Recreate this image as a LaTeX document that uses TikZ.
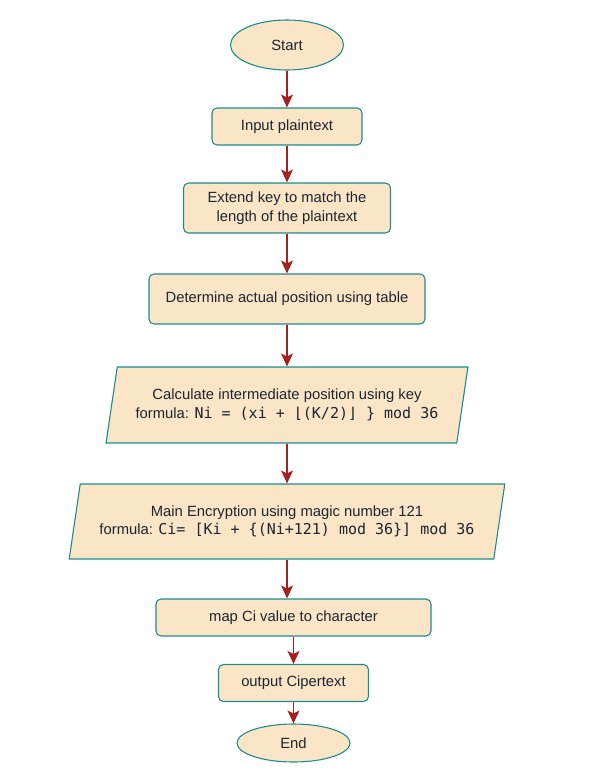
\documentclass[tikz,border=0pt]{standalone}
\usepackage{fontspec}
\setmainfont{Liberation Sans}
\newfontfamily\formulafont{DejaVu Sans Mono}
\usepackage{xcolor}
\usepackage{tikz}
\usetikzlibrary{arrows.meta, shapes, shapes.geometric, positioning}
\definecolor{boxfill}{RGB}{250, 229, 199}
\definecolor{boxline}{RGB}{30, 140, 140}
\definecolor{arrowred}{RGB}{165, 32, 32}
\definecolor{textdark}{RGB}{30, 36, 48}
\tikzset{
    boxnode/.style = {draw=boxline, fill=boxfill, rectangle, rounded corners=5pt, line width=1.1pt,
      inner sep=0pt, node distance=0em, text=textdark},
    termnode/.style = {draw=boxline, fill=boxfill, ellipse, line width=1.1pt, inner sep=0pt,
      node distance=0em, minimum width=113pt, text=textdark},
    ionode/.style = {draw=boxline, fill=boxfill, trapezium, trapezium left angle=72.5,
      trapezium right angle=107.5, trapezium stretches=true, line width=1.1pt, inner sep=0pt,
      node distance=0em, text=textdark},
    connect/.style = {draw=arrowred, line width=1.4pt, -{Stealth[length=13pt, width=12pt, inset=3pt]}},
    every text node part/.style={align=center}
}
\newcommand{\fml}[1]{{\formulafont\fontsize{15}{18}\selectfont #1}}

\begin{document}
\begin{tikzpicture}[font=\fontsize{14.8}{18.5}\selectfont]
    \useasboundingbox (-287pt, 45pt) rectangle (306pt, -726pt);

    \node [name=start, termnode, minimum height=50pt] {Start};
    \node [name=input, boxnode, minimum width=150pt, minimum height=37pt,
        below of = start, yshift=-81.5pt] {Input plaintext};
    \node [name=extend, boxnode, minimum width=207pt, minimum height=50pt,
        below of = input, yshift=-81.5pt] {Extend key to match the\\length of the plaintext};
    \node [name=position, boxnode, minimum width=276pt, minimum height=50pt,
        below of = extend, yshift=-91pt] {Determine actual position using table};

    \node [name=inter, ionode, minimum width=362pt, minimum height=76pt,
        below of = position, yshift=-106pt]
        {Calculate intermediate position using key\\formula: \fml{Ni = (xi + ⌊(K/2)⌋ \} mod 36}};
    \node [name=encrypt, ionode, minimum width=438pt, minimum height=75pt,
        below of = inter, yshift=-116.5pt]
        {Main Encryption using magic number 121\\formula: \fml{Ci= [Ki + \{(Ni+121) mod 36\}] mod 36}};

    \node [name=mapci, boxnode, minimum width=275pt, minimum height=37pt,
        below of = encrypt, yshift=-96pt, xshift=6.5pt] {map Ci value to character};
    \node [name=output, boxnode, minimum width=150pt, minimum height=37pt,
        below of = mapci, yshift=-65.5pt] {output Cipertext};
    \node [name=finish, termnode, minimum height=38pt,
        below of = output, yshift=-60pt] {End};

    \draw (start) edge[connect] (input);
    \draw (input) edge[connect] (extend);
    \draw (extend) edge[connect] (position);
    \draw [connect] (position.south) -- (position.south |- inter.north);
    \draw [connect] (inter.south) -- (inter.south |- encrypt.north);
    \draw [connect] (encrypt.south) -- (encrypt.south |- mapci.north);
    \draw (mapci) edge[connect] (output);
    \draw (output) edge[connect] (finish);
\end{tikzpicture}
\end{document}
